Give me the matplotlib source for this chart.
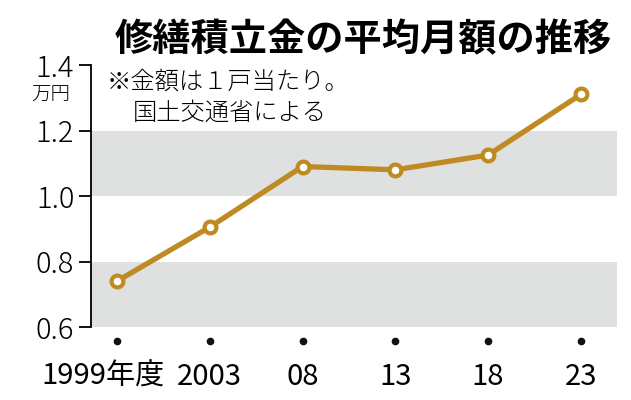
import matplotlib
matplotlib.use("Agg")
import matplotlib.pyplot as plt
import matplotlib.transforms as mtransforms

plt.rcParams["font.family"] = ["Noto Sans CJK JP", "DejaVu Sans"]

# ── data ────────────────────────────────────────────────────────────────
years = ["1999年度", "2003", "08", "13", "18", "23"]
monthly_fee = [0.74, 0.905, 1.09, 1.08, 1.125, 1.31]   # 万円 / 戸
y_ticks = [0.6, 0.8, 1.0, 1.2, 1.4]
y_labels = ["0.6", "0.8", "1.0", "1.2", "1.4"]
bands = [(0.6, 0.8), (1.0, 1.2)]

LINE = "#bf8a22"
BAND = "#dfe0e0"
NARROW = ["Liberation Sans Narrow", "DejaVu Sans Condensed", "Noto Sans CJK JP"]

W, H = 631, 400
fig = plt.figure(figsize=(W / 100, H / 100), dpi=100)
ax = fig.add_axes([91 / W, 1 - 327 / H, (617 - 91) / W, (327 - 65) / H])

for lo, hi in bands:
    ax.axhspan(lo, hi, color=BAND, lw=0, zorder=0)

x = list(range(len(years)))
ax.plot(x, monthly_fee, "-", color=LINE, lw=3.8, solid_capstyle="round",
        zorder=3, clip_on=False)
ax.plot(x, monthly_fee, "o", ms=8.5, mfc="white", mec=LINE, mew=3.0,
        zorder=4, clip_on=False)

ax.set_xlim(-0.28, 5.39)
ax.set_ylim(0.6, 1.4)

# y axis
for s in ["top", "right", "bottom"]:
    ax.spines[s].set_visible(False)
ax.spines["left"].set_linewidth(1.3)
ax.set_yticks(y_ticks)
ax.set_yticklabels(y_labels, fontweight="light")
ax.tick_params(axis="y", length=9, width=1.3, pad=3, labelsize=21)

# x axis: dots + labels
ax.set_xticks([])
trans = mtransforms.blended_transform_factory(ax.transData, ax.transAxes)
ax.plot(x, [-0.055] * len(x), "o", color="#111111", ms=4.5,
        transform=trans, clip_on=False)
for i, lab in enumerate(years):
    off = -0.15 if i == 0 else 0
    ax.text(i + off, -0.19, lab, transform=trans, ha="center", va="center",
            fontsize=21, family=NARROW)

# unit
ax.text(-0.04, 0.885, "万円", transform=ax.transAxes, ha="right", va="center",
        fontsize=14, fontweight="light")

# title and note
fig.text(612 / W, 1 - 40 / H, "修繕積立金の平均月額の推移", ha="right", va="center",
         fontsize=27.5, fontweight="bold")
fig.text(107 / W, 1 - 82 / H, "※金額は１戸当たり。", ha="left", va="center",
         fontsize=17.5, fontweight="light")
fig.text(133 / W, 1 - 113 / H, "国土交通省による", ha="left", va="center",
         fontsize=17.5, fontweight="light")

fig.savefig("out.png", dpi=100)
